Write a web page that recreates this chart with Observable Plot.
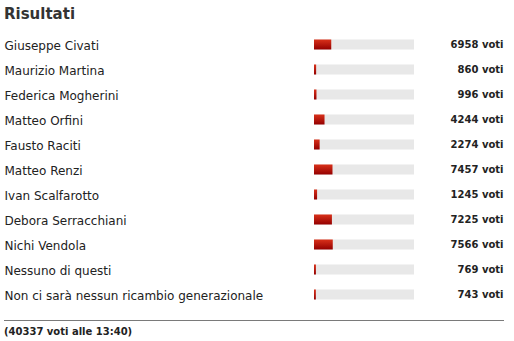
<!DOCTYPE html>
<html>
<head>
<meta charset="utf-8">
<script src="https://cdn.jsdelivr.net/npm/d3@7"></script>
<script src="https://cdn.jsdelivr.net/npm/@observablehq/plot@0.6"></script>
<style>
  html, body { margin: 0; padding: 0; background: #fff; }
  #wrap { position: relative; width: 514px; height: 341px; overflow: hidden; font-family: "DejaVu Sans", sans-serif; }
  #title { position: absolute; left: 4px; top: 7px; font: bold 15px "DejaVu Sans", sans-serif; line-height: 15px; color: #333; }
  #chart { position: absolute; left: 0; top: 28px; }
  #rule { position: absolute; left: 4px; top: 320px; width: 500px; height: 1px; background: #7a7a7a; }
  #foot { position: absolute; left: 4px; top: 327px; font: bold 10px "DejaVu Sans", sans-serif; line-height: 10px; color: #222; }
</style>
</head>
<body>
<div id="wrap">
  <div id="title"></div>
  <div id="chart"></div>
  <div id="rule"></div>
  <div id="foot"></div>
</div>
<script>
const titleText = "Risultati";
const candidates = [
  "Giuseppe Civati",
  "Maurizio Martina",
  "Federica Mogherini",
  "Matteo Orfini",
  "Fausto Raciti",
  "Matteo Renzi",
  "Ivan Scalfarotto",
  "Debora Serracchiani",
  "Nichi Vendola",
  "Nessuno di questi",
  "Non ci sarà nessun ricambio generazionale"
];
const votes = [6958, 860, 996, 4244, 2274, 7457, 1245, 7225, 7566, 769, 743];
const totalVotes = 40337;
const unitLabel = "voti";
const updateTime = "13:40";

const rows = candidates.map((name, i) => ({
  name,
  votes: votes[i],
  pct: votes[i] / totalVotes * 100,
  label: `${votes[i]} ${unitLabel}`
}));

document.getElementById("title").textContent = titleText;
document.getElementById("foot").textContent = `(${totalVotes} ${unitLabel} alle ${updateTime})`;

const chart = Plot.plot({
  width: 514,
  height: 285,
  marginLeft: 314,
  marginRight: 100,
  marginTop: 3.5,
  marginBottom: 6.5,
  x: { domain: [0, 100], axis: null },
  y: { domain: candidates, axis: null, padding: 0 },
  style: { fontFamily: "DejaVu Sans, sans-serif", background: "transparent" },
  marks: [
    Plot.barX(rows, { y: "name", x1: 0, x2: 100, fill: "#e8e8e8", insetTop: 7.5, insetBottom: 7.5 }),
    Plot.barX(rows, { y: "name", x: "pct", fill: "url(#redGrad)", insetTop: 7.5, insetBottom: 7.5 }),
    Plot.text(rows, { y: "name", text: "name", frameAnchor: "left", textAnchor: "start", dx: -310, dy: 1, fontSize: 12, fill: "#222" }),
    Plot.text(rows, { y: "name", text: "label", frameAnchor: "right", textAnchor: "end", dx: 89, fontSize: 10, fontWeight: "bold", fill: "#222" })
  ]
});

const ns = "http://www.w3.org/2000/svg";
const defs = document.createElementNS(ns, "defs");
const grad = document.createElementNS(ns, "linearGradient");
grad.setAttribute("id", "redGrad");
grad.setAttribute("x1", "0"); grad.setAttribute("y1", "0");
grad.setAttribute("x2", "0"); grad.setAttribute("y2", "1");
[["0%", "#d9311a"], ["100%", "#940000"]].forEach(([o, c]) => {
  const s = document.createElementNS(ns, "stop");
  s.setAttribute("offset", o);
  s.setAttribute("stop-color", c);
  grad.appendChild(s);
});
defs.appendChild(grad);
chart.insertBefore(defs, chart.firstChild);

document.getElementById("chart").appendChild(chart);
</script>
</body>
</html>
